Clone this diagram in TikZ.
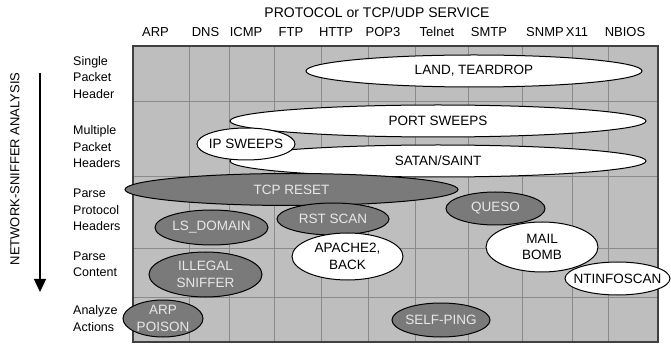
\documentclass[tikz,border=0pt]{standalone}
\usepackage{fontspec}
\setmainfont{Liberation Sans}
\usetikzlibrary{shapes.geometric,arrows.meta}
\definecolor{gridfill}{HTML}{BEBEBE}
\definecolor{gridline}{HTML}{8A8A8A}
\definecolor{gridborder}{HTML}{404040}
\definecolor{darkfill}{HTML}{7A7A7A}
\definecolor{darktxt}{HTML}{E8E8E8}
\tikzset{
  x=1pt, y=-1pt,
  oval/.style={ellipse, draw=black, line width=1pt, inner sep=0pt},
  whiteoval/.style={oval, fill=white},
  darkoval/.style={oval, fill=darkfill},
  wtxt/.style={text=black, font=\fontsize{13.5}{16.5}\selectfont, align=center, inner sep=0pt},
  dtxt/.style={text=darktxt, font=\fontsize{13.5}{16.5}\selectfont, align=center, inner sep=0pt},
  collabel/.style={anchor=base, font=\fontsize{13}{15}\selectfont, inner sep=0pt},
  rowlabel/.style={anchor=west, align=left, font=\fontsize{12.5}{16.5}\selectfont, inner sep=0pt},
}
\begin{document}
\begin{tikzpicture}
\useasboundingbox (0,0) rectangle (671,344);
% grid
\fill[gridfill] (133,46) rectangle (658,342);
\foreach \xx in {189,229,274,321,368,415,468,522,572,608}
  \draw[gridline, line width=0.8pt] (\xx,46) -- (\xx,342);
\foreach \yy in {101,176,248,297}
  \draw[gridline, line width=0.8pt] (133,\yy) -- (658,\yy);
\draw[gridborder, line width=1.4pt] (133,46) rectangle (658,342);

% headings
\node[anchor=base, font=\fontsize{14}{16}\selectfont, inner sep=0pt] (title) at (377,18) {PROTOCOL or TCP/UDP SERVICE};
\node[collabel] (cARP) at (155.5,37) {ARP};
\node[collabel] (cDNS) at (205.5,37) {DNS};
\node[collabel] (cICMP) at (246,37) {ICMP};
\node[collabel] (cFTP) at (291,37) {FTP};
\node[collabel] (cHTTP) at (336,37) {HTTP};
\node[collabel] (cPOP) at (383,37) {POP3};
\node[collabel] (cTEL) at (437,37) {Telnet};
\node[collabel] (cSMTP) at (489,37) {SMTP};
\node[collabel] (cSNMP) at (545,37) {SNMP};
\node[collabel] (cX) at (577,37) {X11};
\node[collabel] (cNB) at (625,37) {NBIOS};

% row labels
\node[rowlabel] (r1) at (73,77.5) {Single\\Packet\\Header};
\node[rowlabel] (r2) at (73,147) {Multiple\\Packet\\Headers};
\node[rowlabel] (r3) at (73,210) {Parse\\Protocol\\Headers};
\node[rowlabel] (r4) at (73,264.5) {Parse\\Content};
\node[rowlabel] (r5) at (73,318.5) {Analyze\\Actions};

% vertical axis
\node[rotate=90, font=\fontsize{13}{15}\selectfont, inner sep=0pt] (vlab) at (15,169) {NETWORK-SNIFFER ANALYSIS};
\coordinate (atop) at (40,73);
\coordinate (abot) at (40,292);
\draw[line width=1.3pt, -{Triangle[length=13pt,width=12pt]}] (atop) -- (abot);

% ellipses
\node[whiteoval, minimum width=336, minimum height=32, label={[wtxt]center:LAND, TEARDROP}] (land) at (474,71) {};
\node[whiteoval, minimum width=416, minimum height=32, label={[wtxt]center:PORT SWEEPS}] (port) at (438,121) {};
\node[whiteoval, minimum width=416, minimum height=32, label={[wtxt]center:SATAN/SAINT}] (satan) at (438,161) {};
\node[whiteoval, minimum width=98, minimum height=32, label={[wtxt]center:IP SWEEPS}] (ip) at (246,144) {};
\node[darkoval, minimum width=333, minimum height=32, label={[dtxt]center:TCP RESET}] (tcp) at (291.5,189.5) {};
\node[darkoval, minimum width=113, minimum height=35, label={[dtxt]center:LS\_DOMAIN}] (ls) at (211.5,227.5) {};
\node[darkoval, minimum width=112, minimum height=32, label={[dtxt]center:RST SCAN}] (rst) at (333,219) {};
\node[whiteoval, minimum width=111, minimum height=47, label={[wtxt]center:APACHE2,\\BACK}] (apache) at (347.5,256.5) {};
\node[darkoval, minimum width=113, minimum height=45, label={[dtxt]center:ILLEGAL\\SNIFFER}] (ill) at (205.5,274.5) {};
\node[darkoval, minimum width=80, minimum height=37, label={[dtxt]center:ARP\\POISON}] (arp) at (163,318.5) {};
\node[darkoval, minimum width=99, minimum height=33, label={[dtxt]center:QUESO}] (queso) at (495.5,208.5) {};
\node[whiteoval, minimum width=112, minimum height=50, label={[wtxt]center:MAIL\\BOMB}] (mail) at (542,247) {};
\node[whiteoval, minimum width=105, minimum height=33, label={[wtxt]center:NTINFOSCAN}] (nt) at (617.5,278.5) {};
\node[darkoval, minimum width=98, minimum height=34, label={[dtxt]center:SELF-PING}] (self) at (441,320) {};
\end{tikzpicture}
\end{document}
